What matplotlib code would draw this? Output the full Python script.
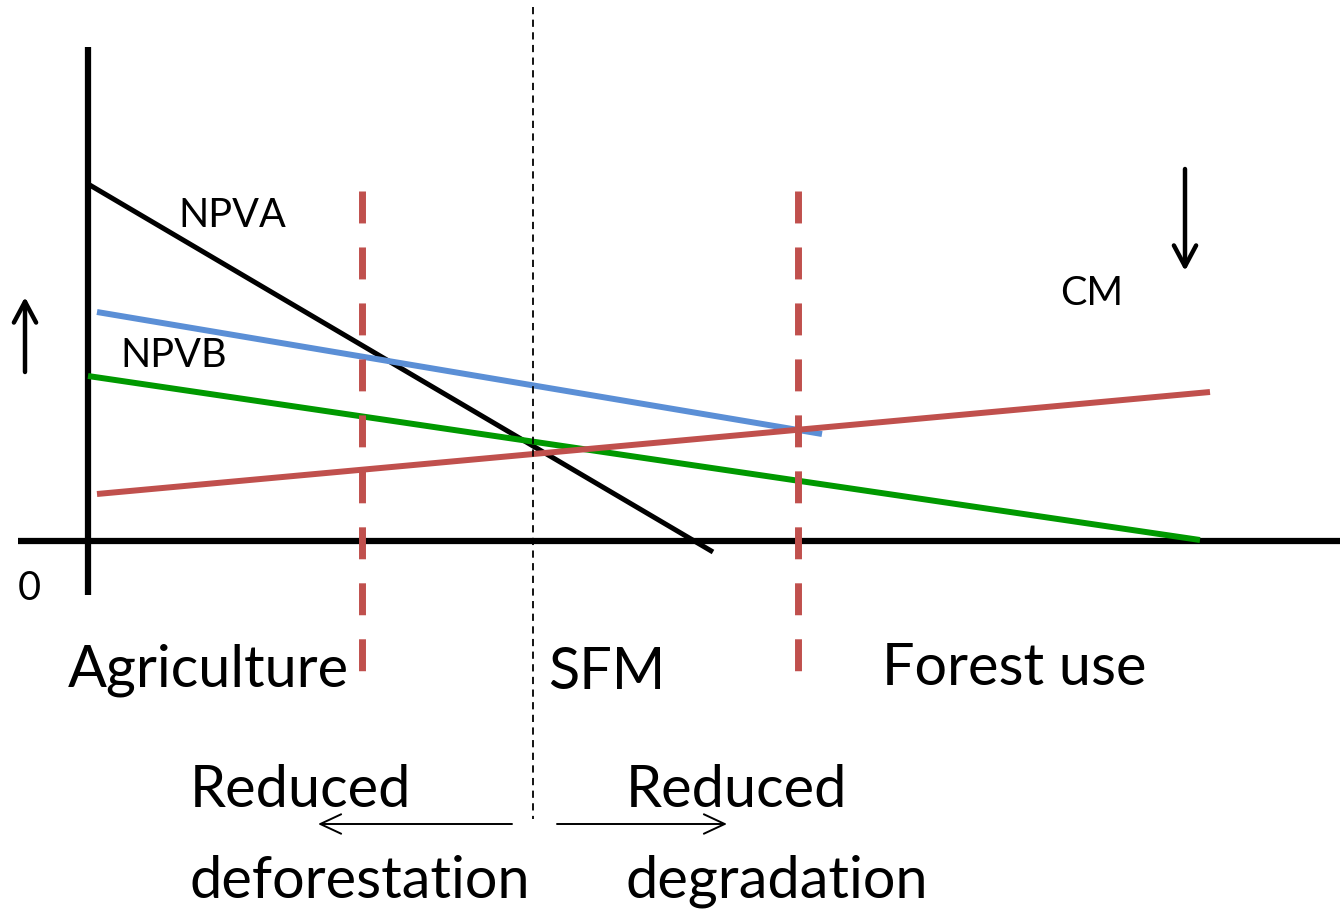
import matplotlib
matplotlib.use("Agg")
import matplotlib.pyplot as plt

# Diagram geometry in canvas pixel units (x right, y down)
axis_x = [88, 88]; axis_y = [48, 596]
base_x = [18, 1340]; base_y = [542, 542]
npva_x = [88, 713]; npva_y = [185, 553]
npvb_x = [97, 822]; npvb_y = [313, 435]
green_x = [88, 1200]; green_y = [377, 541]
cm_x = [97, 1210]; cm_y = [495, 393]
red_dash_x = [362, 798]; red_dash_y = [192, 672]
sfm_x = 533; sfm_y = [8, 820]

labels = ["NPVA", "NPVB", "CM", "0"]
label_pos = [(178, 227), (120, 367), (1060, 305), (18, 600)]
region_labels = ["Agriculture", "SFM", "Forest use"]
region_pos = [(68, 687), (548, 689), (882, 685)]
bottom_labels = ["Reduced", "deforestation", "Reduced", "degradation"]
bottom_pos = [(190, 807), (190, 898), (626, 807), (626, 898)]

plt.rcParams['font.family'] = ['Lato', 'DejaVu Sans']
fig = plt.figure(figsize=(13.44, 9.12), dpi=100)
ax = fig.add_axes([0, 0, 1, 1])
ax.set_xlim(0, 1344)
ax.set_ylim(912, 0)
ax.axis('off')

ax.plot(axis_x, axis_y, color='black', lw=4.5, solid_capstyle='butt')
ax.plot(base_x, base_y, color='black', lw=4.5, solid_capstyle='butt')
ax.plot(npva_x, npva_y, color='black', lw=3.6, solid_capstyle='butt')
ax.plot(npvb_x, npvb_y, color='#5B8FD6', lw=4.3, solid_capstyle='butt')
ax.plot(green_x, green_y, color='#009900', lw=4.3, solid_capstyle='butt')
ax.plot(cm_x, cm_y, color='#C0504D', lw=4.3, solid_capstyle='butt')
for xv in red_dash_x:
    ax.plot([xv, xv], red_dash_y, color='#C0504D', lw=5, dashes=(4.6, 3.46),
            dash_capstyle='butt')
ax.plot([sfm_x, sfm_x], sfm_y, color='black', lw=1.3, dashes=(4, 3))

big_head = '->,head_length=1.5,head_width=0.8'
small_head = '->,head_length=1.5,head_width=0.7'
ax.annotate('', xy=(25, 298), xytext=(25, 373),
            arrowprops=dict(arrowstyle=big_head, color='black', lw=3.2,
                            shrinkA=0, shrinkB=0))
ax.annotate('', xy=(1185, 272), xytext=(1185, 170),
            arrowprops=dict(arrowstyle=big_head, color='black', lw=3.2,
                            shrinkA=0, shrinkB=0))
ax.annotate('', xy=(318, 825), xytext=(512, 825),
            arrowprops=dict(arrowstyle=small_head, color='black', lw=1.4,
                            shrinkA=0, shrinkB=0))
ax.annotate('', xy=(727, 825), xytext=(557, 825),
            arrowprops=dict(arrowstyle=small_head, color='black', lw=1.4,
                            shrinkA=0, shrinkB=0))

for t, (x, y) in zip(labels, label_pos):
    ax.text(x, y, t, fontsize=28.5, ha='left', va='baseline')
for t, (x, y) in zip(region_labels, region_pos):
    ax.text(x, y, t, fontsize=41.5, ha='left', va='baseline')
for t, (x, y) in zip(bottom_labels, bottom_pos):
    ax.text(x, y, t, fontsize=41.5, ha='left', va='baseline')

fig.savefig('out.png', dpi=100)
